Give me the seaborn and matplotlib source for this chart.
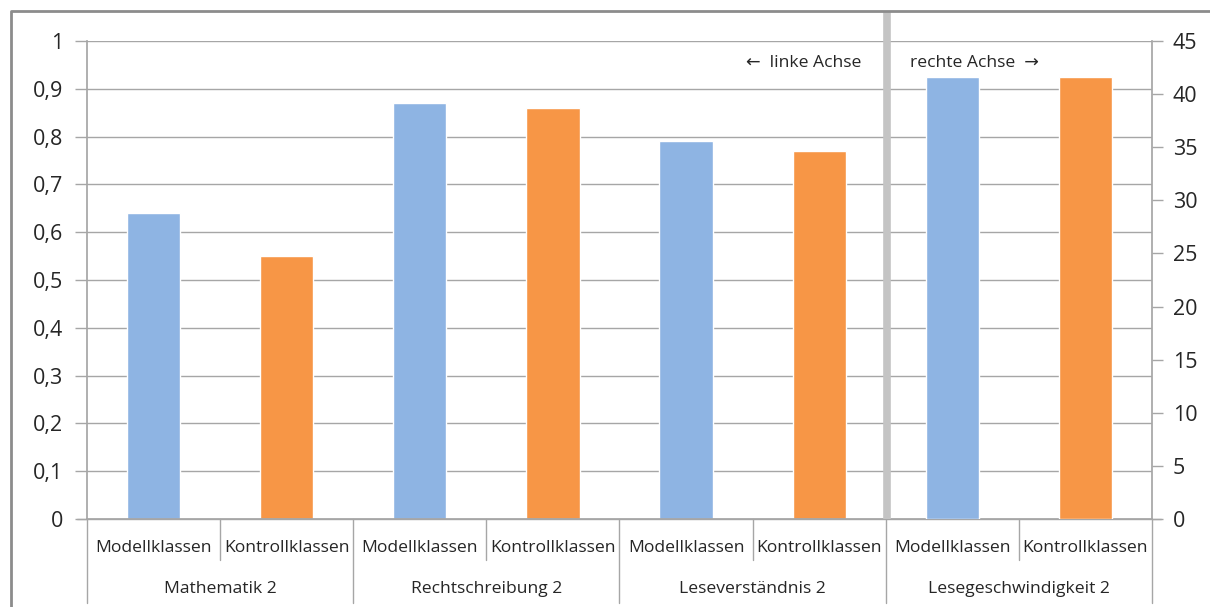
import matplotlib
matplotlib.use("Agg")
import matplotlib.pyplot as plt
import seaborn as sns
import pandas as pd
from matplotlib.lines import Line2D

sns.set_theme(style="white")
plt.rcParams['font.family'] = ['Open Sans', 'DejaVu Sans']

groups = ["Mathematik 2", "Rechtschreibung 2", "Leseverständnis 2", "Lesegeschwindigkeit 2"]
classes = ["Modellklassen", "Kontrollklassen"]
modell_left = [0.64, 0.87, 0.79]
kontroll_left = [0.55, 0.86, 0.77]
modell_right = [41.6]
kontroll_right = [41.6]
left_ticks = [0, 0.1, 0.2, 0.3, 0.4, 0.5, 0.6, 0.7, 0.8, 0.9, 1]
left_tick_labels = ["0", "0,1", "0,2", "0,3", "0,4", "0,5", "0,6", "0,7", "0,8", "0,9", "1"]
right_ticks = [0, 5, 10, 15, 20, 25, 30, 35, 40, 45]
colors = {"Modellklassen": "#8eb4e3", "Kontrollklassen": "#f79646"}

slots = [f"{g}|{c}" for g in groups for c in classes]

rows_left = []
for i, g in enumerate(groups[:3]):
    rows_left.append({"slot": f"{g}|Modellklassen", "Klasse": "Modellklassen", "Wert": modell_left[i]})
    rows_left.append({"slot": f"{g}|Kontrollklassen", "Klasse": "Kontrollklassen", "Wert": kontroll_left[i]})
rows_right = [
    {"slot": f"{groups[3]}|Modellklassen", "Klasse": "Modellklassen", "Wert": modell_right[0]},
    {"slot": f"{groups[3]}|Kontrollklassen", "Klasse": "Kontrollklassen", "Wert": kontroll_right[0]},
]
df_left = pd.DataFrame(rows_left)
df_right = pd.DataFrame(rows_right)

W, H = 1210, 607
fig = plt.figure(figsize=(W / 100, H / 100), dpi=100)
L, R, T, B = 87, 1152, 41, 519
ax = fig.add_axes([L / W, 1 - B / H, (R - L) / W, (B - T) / H])
ax2 = ax.twinx()

grid_c = "#a6a6a6"
txt_c = "#262626"
for y in left_ticks[1:]:
    ax.axhline(y, color=grid_c, lw=1.0, zorder=0)

sns.barplot(data=df_left, x="slot", y="Wert", hue="Klasse", order=slots,
            hue_order=classes, palette=colors, dodge=False, width=0.4,
            ax=ax, legend=False, saturation=1, zorder=2)
sns.barplot(data=df_right, x="slot", y="Wert", hue="Klasse", order=slots,
            hue_order=classes, palette=colors, dodge=False, width=0.4,
            ax=ax2, legend=False, saturation=1, zorder=2)

ax.set_xlim(-0.5, 7.5)
ax.set_ylim(0, 1)
ax2.set_ylim(0, 45)
ax.set_yticks(left_ticks)
ax.set_yticklabels(left_tick_labels)
ax2.set_yticks(right_ticks)
ax2.set_yticklabels([str(v) for v in right_ticks])
ax.set_xticks([])
ax2.set_xticks([])
for a in (ax, ax2):
    a.set_xlabel("")
    a.set_ylabel("")
    a.grid(False)
    for s in a.spines.values():
        s.set_visible(False)

ax.spines["left"].set_visible(True)
ax.spines["left"].set_color(grid_c)
ax.spines["bottom"].set_visible(True)
ax.spines["bottom"].set_color(grid_c)
ax2.spines["right"].set_visible(True)
ax2.spines["right"].set_color(grid_c)

ax.tick_params(axis="y", left=True, length=9, width=1, color=grid_c, labelsize=15.5,
               labelcolor=txt_c, pad=8)
ax2.tick_params(axis="y", right=True, length=8, width=1, color=grid_c, labelsize=15.5,
                labelcolor=txt_c, pad=7)

ax.add_line(Line2D([-0.009, 1.008], [0, 0], transform=ax.transAxes, color=grid_c, lw=1, clip_on=False))

# multi-level category labels
blend = ax.get_xaxis_transform()
for i, s in enumerate(slots):
    g, c = s.split("|")
    ax.text(i, -0.06, c, transform=blend, ha="center", va="center", fontsize=12.6, color=txt_c)
for k, g in enumerate(groups):
    ax.text(2 * k + 0.5, -0.146, g, transform=blend, ha="center", va="center", fontsize=12.6, color=txt_c)
for i in range(9):
    x = i - 0.5
    ybot = -0.176 if i % 2 == 0 else -0.086
    ax.add_line(Line2D([x, x], [0, ybot], transform=blend, color=grid_c, lw=1, clip_on=False))

# thick separator between left and right axis parts
fig.add_artist(Line2D([886.5 / W, 886.5 / W], [1 - 11 / H, 1 - 519 / H], color="#c4c4c4",
                      lw=5.5, solid_capstyle="butt", zorder=5))

ax.text(5.32, 0.955, "←  linke Achse", transform=blend, ha="right", va="center", fontsize=12.6, color=txt_c)
ax.text(5.68, 0.955, "rechte Achse  →", transform=blend, ha="left", va="center", fontsize=12.6, color=txt_c)

# outer frame (top and left)
fig.add_artist(Line2D([10.5 / W, 10.5 / W, 1.0], [0.0, 1 - 10.5 / H, 1 - 10.5 / H], color="#8c8c8c",
                      lw=2, solid_capstyle="butt", zorder=6))

fig.savefig("out.png", dpi=100)
